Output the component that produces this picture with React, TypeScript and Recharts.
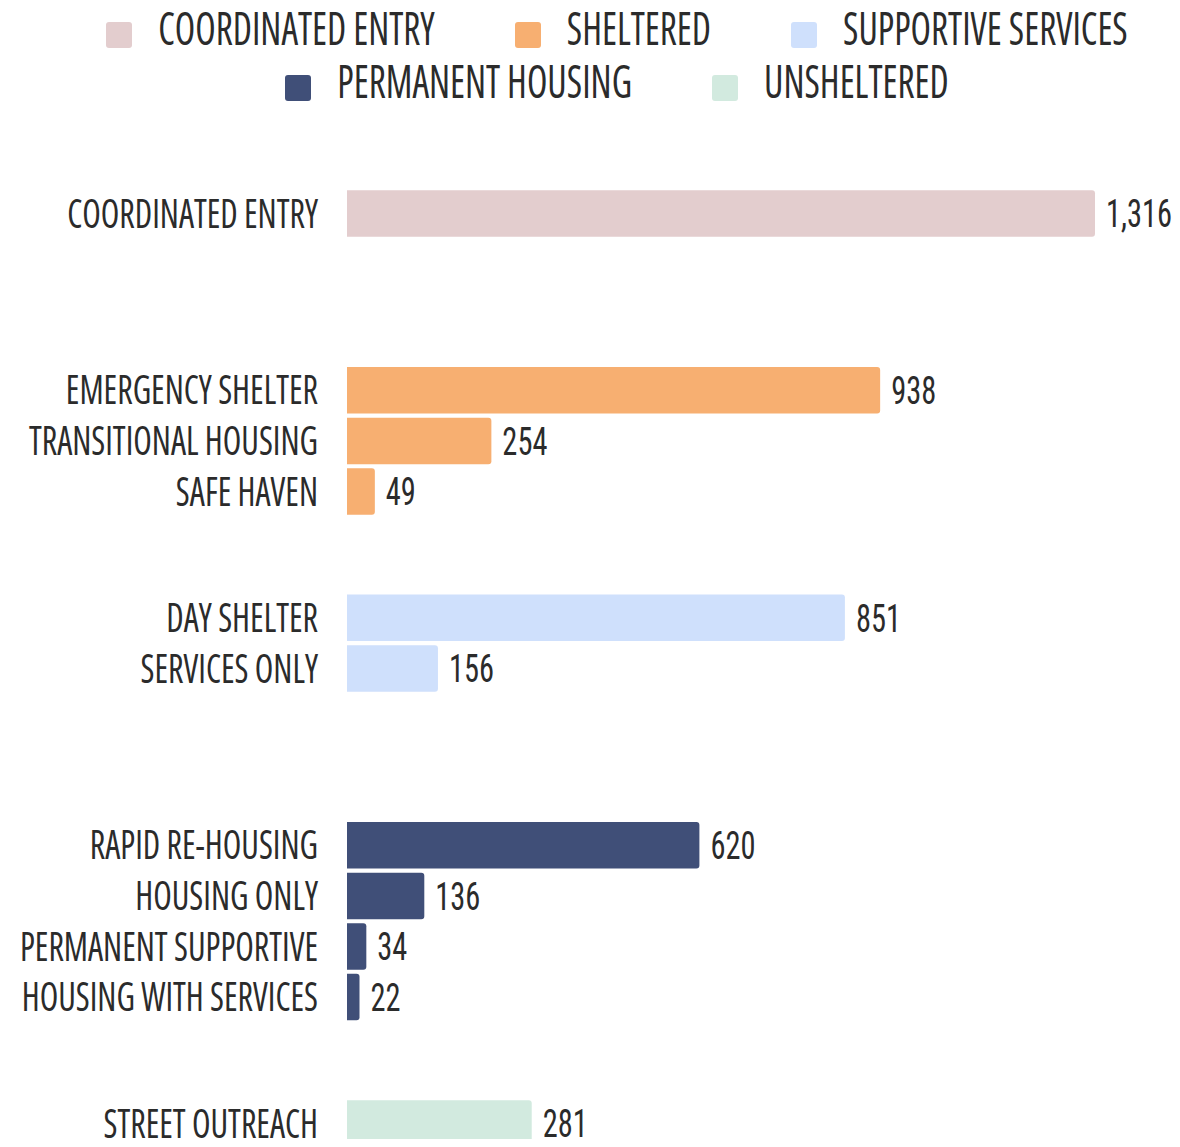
import React from 'react';
import { BarChart, Bar, XAxis, YAxis, Legend, Cell, LabelList, Rectangle } from 'recharts';

// program types, in the order they are drawn
const categories = [
  'COORDINATED ENTRY',
  'EMERGENCY SHELTER',
  'TRANSITIONAL HOUSING',
  'SAFE HAVEN',
  'DAY SHELTER',
  'SERVICES ONLY',
  'RAPID RE-HOUSING',
  'HOUSING ONLY',
  'PERMANENT SUPPORTIVE',
  'HOUSING WITH SERVICES',
  'STREET OUTREACH',
];
// bar lengths as drawn (a few bars run a little past their printed number)
const barValues = [1316, 938, 254, 49, 876, 160, 620, 136, 34, 22, 325];
// numbers printed next to the bars
const labelValues = [1316, 938, 254, 49, 851, 156, 620, 136, 34, 22, 281];
const groups = ['COORDINATED ENTRY', 'SHELTERED', 'SUPPORTIVE SERVICES', 'PERMANENT HOUSING', 'UNSHELTERED'];
const categoryGroup = [0, 1, 1, 1, 2, 2, 3, 3, 3, 3, 4];

const GROUP_COLORS = ['#e3cdce', '#f7af71', '#cfe0fc', '#404f78', '#d2eadf'];
const TEXT = '#2b2b2b';
// blank half-rows between bars: inside a group / before each new group
const INNER_SPACERS = 1;
const GROUP_SPACERS = [6, 4, 6, 4];
const BAR_FILL = 1.86; // bar height relative to the half-row band

type Row = { name: string; value: number | null; label: number | null; group: number };

const rows: Row[] = [];
categories.forEach((name, i) => {
  if (i > 0) {
    const g = categoryGroup[i];
    const n = g === categoryGroup[i - 1] ? INNER_SPACERS : GROUP_SPACERS[g - 1];
    for (let k = 0; k < n; k++) rows.push({ name: '', value: null, label: null, group: -1 });
  }
  rows.push({ name, value: barValues[i], label: labelValues[i], group: categoryGroup[i] });
});

const condensed = { fontFamily: '"Open Sans", sans-serif', fontStretch: '75%' } as React.CSSProperties;
const numberFont = { fontFamily: 'Roboto, sans-serif', fontStretch: '75%' } as React.CSSProperties;

const CategoryTick = (props: any) => {
  const { x, y, payload } = props;
  if (!payload.value) return null;
  return (
    <text
      transform={`translate(${x},${y + 14}) scale(0.83,1)`}
      textAnchor="end"
      fontSize={41}
      fill={TEXT}
      style={condensed}
    >
      {payload.value}
    </text>
  );
};

const BarShape = (props: any) => {
  const { x, y, width, height, fill } = props;
  if (!width || width <= 0) return null;
  const h = height * BAR_FILL;
  return <Rectangle x={x} y={y + (height - h) / 2} width={width} height={h} fill={fill} radius={[0, 3, 3, 0]} />;
};

const ValueLabel = (props: any) => {
  const { x, y, width, height, value } = props;
  if (value === null || value === undefined) return null;
  return (
    <text
      transform={`translate(${x + width + 11},${y + height / 2 + 14}) scale(0.78,1)`}
      fontSize={39}
      fill={TEXT}
      style={numberFont}
    >
      {Number(value).toLocaleString('en-US')}
    </text>
  );
};

const GroupLegend = () => (
  <div
    style={{
      height: 110,
      display: 'flex',
      flexWrap: 'wrap',
      justifyContent: 'center',
      alignContent: 'flex-start',
      columnGap: 80,
    }}
  >
    {groups.map((g, i) => (
      <div key={g} style={{ display: 'flex', alignItems: 'center', height: 53 }}>
        <span style={{ width: 26, height: 26, borderRadius: 3, background: GROUP_COLORS[i], marginRight: 26 }} />
        <span
          style={{
            ...condensed,
            fontSize: 37.5,
            lineHeight: 1,
            color: TEXT,
            whiteSpace: 'nowrap',
            display: 'inline-block',
            transform: 'translateY(-6.5px) scaleY(1.21)',
          }}
        >
          {g}
        </span>
      </div>
    ))}
  </div>
);

export default function App() {
  return (
    <div style={{ height: 1139, marginBottom: -8 }}>
      <BarChart
        width={1172}
        height={1139}
        data={rows}
        layout="vertical"
        barCategoryGap={0}
        margin={{ top: 82.9, right: 85, bottom: 10.8, left: 9 }}
        style={{ overflow: 'visible' }}
      >
        <Legend verticalAlign="top" content={<GroupLegend />} wrapperStyle={{ top: 0, left: 54, width: 1110 }} />
        <XAxis type="number" hide domain={[0, 1316]} />
        <YAxis
          type="category"
          dataKey="name"
          width={330}
          interval={0}
          axisLine={false}
          tickLine={false}
          tickSize={0}
          tickMargin={29}
          tick={<CategoryTick />}
        />
        <Bar dataKey="value" isAnimationActive={false} shape={<BarShape />}>
          {rows.map((r, i) => (
            <Cell key={i} fill={r.group >= 0 ? GROUP_COLORS[r.group] : 'none'} />
          ))}
          <LabelList dataKey="label" content={<ValueLabel />} />
        </Bar>
      </BarChart>
    </div>
  );
}
